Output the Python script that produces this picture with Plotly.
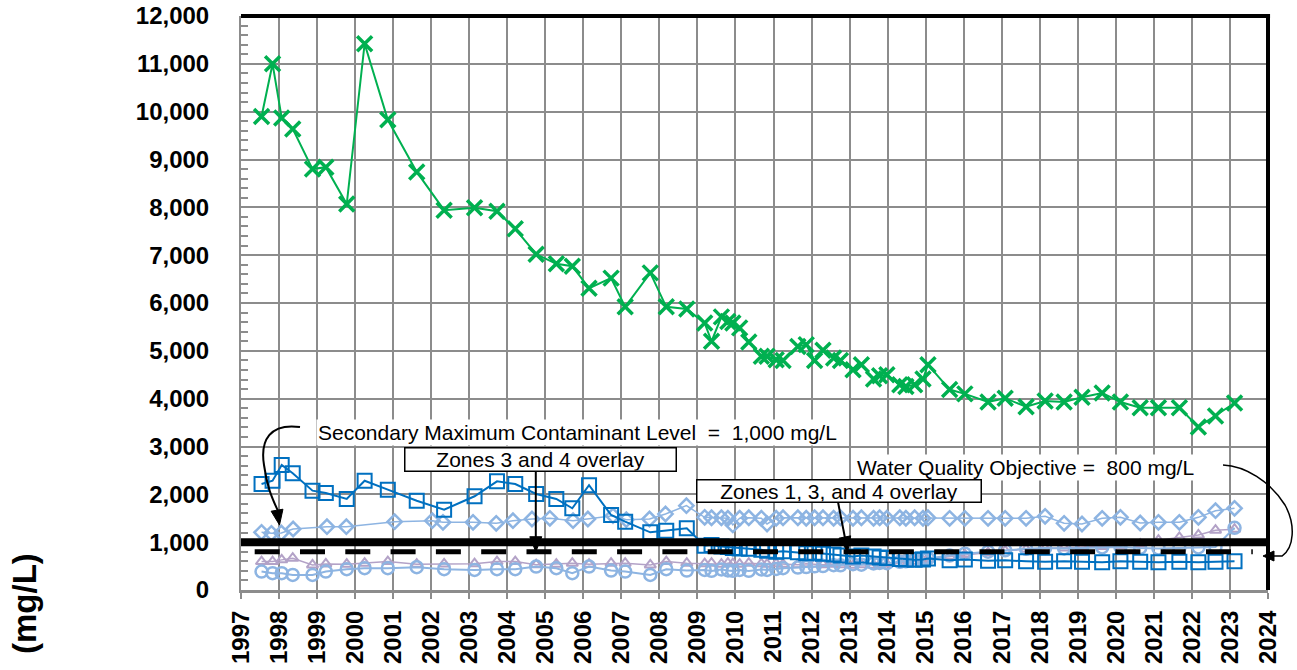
import plotly.graph_objects as go

# ---------------------------------------------------------------------------
# Data (decimal years, TDS in mg/L)
# ---------------------------------------------------------------------------
# Sampling dates shared by most of the monitoring wells
sample_t = [1997.54, 1997.83, 1998.07, 1998.36, 1998.88, 1999.23, 1999.78, 2000.25,
            2000.86, 2001.62, 2002.34, 2003.14, 2003.73, 2004.21, 2004.76, 2005.29,
            2005.71, 2006.15, 2006.73, 2007.10, 2007.76, 2008.18, 2008.72, 2009.19,
            2009.37, 2009.63, 2009.80, 2009.93, 2010.11, 2010.35, 2010.68, 2010.83,
            2011.07, 2011.25, 2011.64, 2011.86, 2012.08, 2012.30, 2012.58, 2012.76,
            2013.09, 2013.31, 2013.63, 2013.79, 2013.98, 2014.32, 2014.48, 2014.71,
            2014.93, 2015.06, 2015.63, 2016.03, 2016.64, 2017.09, 2017.64, 2018.14,
            2018.64, 2019.11, 2019.64, 2020.12, 2020.64, 2021.12, 2021.67, 2022.17,
            2022.62, 2023.12]

well_green = [9900, 11000, 9870, 9640, 8800, 8840, 8070, 11420, 9830, 8740, 7940, 7990,
              7920, 7550, 7020, 6820, 6770, 6310, 6520, 5920, 6630, 5920, 5875, 5580,
              5200, 5710, 5615, 5580, 5480, 5185, 4885, 4885, 4815, 4800, 5090, 5130,
              4800, 5010, 4850, 4800, 4605, 4710, 4410, 4480, 4500, 4290, 4255, 4290,
              4410, 4710, 4190, 4100, 3930, 4010, 3830, 3950, 3930, 4030, 4120, 3930,
              3810, 3810, 3810, 3410, 3640, 3910]

well_square = [2216, 2285, 2613, 2440, 2077, 2028, 1903, 2285, 2097, 1867, 1679, 1959,
               2272, 2216, 2007, 1903, 1708, 2190, 1568, 1428, 1206, 1240, 1290, 926,
               940, 910, 900, 880, 870, 860, 840, 820, 800, 810, 790, 770,
               780, 760, 740, 720, 700, 720, 700, 680, 670, 650, 640, 630,
               640, 660, 620, 640, 610, 620, 600, 590, 600, 590, 580, 600,
               590, 580, 590, 580, 590, 600]

well_circle = [385, 351, 351, 316, 316, 385, 435, 456, 456, 477, 435, 420,
               435, 435, 490, 456, 351, 490, 406, 385, 316, 435, 406, 420,
               400, 430, 410, 400, 420, 400, 430, 420, 440, 455, 470, 480,
               495, 500, 520, 515, 540, 530, 555, 565, 560, 590, 600, 625,
               640, 660, 720, 760, 800, 830, 860, 880, 870, 880, 890, 900,
               880, 870, 880, 890, 900, 1300]

well_triangle = [594, 594, 630, 665, 525, 546, 540, 560, 594, 540, 545, 550,
                 594, 594, 530, 540, 560, 540, 560, 560, 525, 594, 560, 550,
                 560, 540, 560, 550, 540, 560, 550, 540, 550, 540, 530, 550,
                 540, 530, 540, 530, 520, 530, 520, 530, 540, 560, 580, 600,
                 620, 650, 700, 740, 780, 820, 850, 870, 880, 900, 910, 930,
                 960, 1040, 1100, 1150, 1250, 1270]

# The diamond well was sampled on its own schedule until 2009
diamond_t_early = [1997.54, 1997.80, 1998.06, 1998.37, 1999.26, 1999.77, 2001.04, 2002.03,
                   2002.31, 2003.10, 2003.71, 2004.15, 2004.65, 2005.12, 2005.73, 2006.12,
                   2006.78, 2007.13, 2007.74, 2008.16, 2008.71, 2009.19]
diamond_v_early = [1206, 1185, 1192, 1275, 1324, 1324, 1428, 1449, 1415, 1415, 1394, 1449,
                   1484, 1498, 1449, 1484, 1554, 1470, 1484, 1589, 1763, 1519]
diamond_v_late = [1510, 1510, 1500, 1360, 1500, 1510, 1500, 1380, 1500, 1510, 1510, 1500,
                  1510, 1510, 1500, 1510, 1500, 1510, 1500, 1510, 1500, 1510, 1500, 1510,
                  1500, 1510, 1498, 1498, 1498, 1498, 1498, 1540, 1394, 1380, 1498, 1519,
                  1400, 1415, 1415, 1519, 1658, 1708]

SMCL = 1000   # Secondary Maximum Contaminant Level, mg/L
WQO = 800     # Water Quality Objective, mg/L

year_ticks = list(range(1997, 2025))

# ---------------------------------------------------------------------------
# Layout geometry
# ---------------------------------------------------------------------------
W, H = 1297, 670
L, R, T, B = 241, 1268, 16, 590  # plot area in page pixels
X0, X1 = 1997, 2024
Y0, Y1 = 0, 12000
FONT = "Liberation Sans, Arial, sans-serif"


def pxp(x):
    return (x - L) / (R - L)


def pyp(y):
    return (B - y) / (B - T)


def data_px(year, val):
    return (L + (year - X0) * (R - L) / (X1 - X0), B - (val - Y0) * (B - T) / (Y1 - Y0))


def path(points, cmd_list):
    """Build an SVG path in paper coordinates from page-pixel points."""
    out = []
    i = 0
    for cmd in cmd_list:
        if cmd in ("M", "L"):
            x, y = points[i]; i += 1
            out.append(f"{cmd} {pxp(x):.5f},{pyp(y):.5f}")
        elif cmd == "C":
            seg = []
            for _ in range(3):
                x, y = points[i]; i += 1
                seg.append(f"{pxp(x):.5f},{pyp(y):.5f}")
            out.append("C " + " ".join(seg))
        elif cmd == "Z":
            out.append("Z")
    return " ".join(out)


def arrowhead(tip, tail, length=15, width=12):
    tx, ty = tip
    dx, dy = tx - tail[0], ty - tail[1]
    n = (dx * dx + dy * dy) ** 0.5
    ux, uy = dx / n, dy / n
    bx, by = tx - ux * length, ty - uy * length
    px_, py_ = -uy * width / 2, ux * width / 2
    pts = [(tx, ty), (bx + px_, by + py_), (bx - px_, by - py_)]
    return dict(type="path", xref="paper", yref="paper",
                path=path(pts, ["M", "L", "L", "Z"]),
                fillcolor="black", line=dict(color="black", width=1), layer="above")


fig = go.Figure()

fig.add_trace(go.Scatter(
    x=sample_t, y=well_triangle, mode="lines+markers", name="Triangle well",
    line=dict(color="#B3A2C7", width=1.5),
    marker=dict(symbol="triangle-up-open", size=10, color="#B3A2C7", line=dict(width=2))))

fig.add_trace(go.Scatter(
    x=sample_t, y=well_circle, mode="lines+markers", name="Circle well",
    line=dict(color="#8DB4E2", width=2),
    marker=dict(symbol="circle-open", size=12, color="#8DB4E2", line=dict(width=2.5))))

fig.add_trace(go.Scatter(
    x=diamond_t_early + sample_t[24:], y=diamond_v_early + diamond_v_late,
    mode="lines+markers", name="Diamond well",
    line=dict(color="#8DB4E2", width=1.5),
    marker=dict(symbol="diamond-open", size=11, color="#8DB4E2", line=dict(width=2.5))))

fig.add_trace(go.Scatter(
    x=sample_t, y=well_square, mode="lines+markers", name="Square well",
    line=dict(color="#0070C0", width=2),
    marker=dict(symbol="square-open", size=14, color="#0070C0", line=dict(width=2))))

fig.add_trace(go.Scatter(
    x=sample_t, y=well_green, mode="lines+markers", name="Green well",
    line=dict(color="#00B050", width=2),
    marker=dict(symbol="x-thin", size=15, color="#00B050", line=dict(width=3.5, color="#00B050"))))

shapes = []
# Regulatory lines
shapes.append(dict(type="line", xref="paper", yref="y", x0=0, x1=1, y0=SMCL, y1=SMCL,
                   line=dict(color="black", width=8), layer="above"))
shapes.append(dict(type="line", xref="x", yref="y", x0=1997.36, x1=2023.6, y0=WQO, y1=WQO,
                   line=dict(color="black", width=5, dash="25px,20.3px"), layer="above"))
# Heavy frame on top and right
shapes.append(dict(type="line", xref="paper", yref="paper", x0=0, x1=1.002, y0=1, y1=1,
                   line=dict(color="black", width=4), layer="above"))
shapes.append(dict(type="line", xref="paper", yref="paper", x0=1, x1=1, y0=0, y1=1,
                   line=dict(color="black", width=4), layer="above"))

# Curved leader to the SMCL line
smcl_curve = [(300, 427), (270, 423), (260, 440), (264, 465), (267, 488), (273, 500), (278, 511)]
shapes.append(dict(type="path", xref="paper", yref="paper",
                   path=path(smcl_curve, ["M", "C", "C"]),
                   line=dict(color="black", width=2), layer="above"))
shapes.append(arrowhead((279.5, 525), (277, 510)))

# Curved leader to the WQO line
wqo_curve = [(1223, 465), (1245, 466), (1270, 481), (1285, 505),
             (1296, 525), (1294, 548), (1282, 556), (1273, 556)]
shapes.append(dict(type="path", xref="paper", yref="paper",
                   path=path(wqo_curve, ["M", "C", "C", "L"]),
                   line=dict(color="black", width=1.5), layer="above"))
shapes.append(arrowhead((1263, 556), (1280, 556), length=11, width=10))

# Straight leaders from the overlay boxes to the WQO line
tip34 = data_px(2004.75, WQO)
tail34 = (tip34[0], 471)
shapes.append(dict(type="path", xref="paper", yref="paper",
                   path=path([tail34, (tip34[0], tip34[1] - 12)], ["M", "L"]),
                   line=dict(color="black", width=2), layer="above"))
shapes.append(arrowhead(tip34, tail34))

tip134 = data_px(2012.95, WQO)
tail134 = (838, 502)
ux = tip134[0] - tail134[0]; uy = tip134[1] - tail134[1]
nn = (ux * ux + uy * uy) ** 0.5
shapes.append(dict(type="path", xref="paper", yref="paper",
                   path=path([tail134, (tip134[0] - ux / nn * 12, tip134[1] - uy / nn * 12)], ["M", "L"]),
                   line=dict(color="black", width=2), layer="above"))
shapes.append(arrowhead(tip134, tail134))

annotations = [
    dict(text="Secondary Maximum Contaminant Level  =  1,000 mg/L", xref="paper", yref="paper",
         x=pxp(316), y=pyp(432), xanchor="left", yanchor="middle", showarrow=False,
         font=dict(family=FONT, size=21, color="black"), bgcolor="white", borderpad=1),
    dict(text="Water Quality Objective =  800 mg/L", xref="paper", yref="paper",
         x=pxp(855), y=pyp(467), xanchor="left", yanchor="middle", showarrow=False,
         font=dict(family=FONT, size=21, color="black"), bgcolor="white", borderpad=1),
    dict(text="Zones 3 and 4 overlay", xref="paper", yref="paper",
         x=pxp(540.5), y=pyp(459), xanchor="center", yanchor="middle", showarrow=False,
         width=270, height=22, align="center", valign="middle",
         font=dict(family=FONT, size=21, color="black"), bgcolor="white",
         bordercolor="black", borderwidth=1.5, borderpad=0),
    dict(text="Zones 1, 3, and 4 overlay", xref="paper", yref="paper",
         x=pxp(839), y=pyp(490.5), xanchor="center", yanchor="middle", showarrow=False,
         width=283, height=21, align="center", valign="middle",
         font=dict(family=FONT, size=21, color="black"), bgcolor="white",
         bordercolor="black", borderwidth=1.5, borderpad=0),
    dict(text="(mg/L)", xref="paper", yref="paper", x=pxp(24), y=pyp(604),
         xanchor="center", yanchor="middle", textangle=-90, showarrow=False,
         font=dict(family=FONT, size=33, color="black", weight="bold")),
]

fig.update_layout(
    width=W, height=H,
    margin=dict(l=L, r=W - R, t=T, b=H - B, pad=0, autoexpand=False),
    paper_bgcolor="white", plot_bgcolor="white",
    showlegend=False,
    shapes=shapes, annotations=annotations,
    xaxis=dict(range=[X0, X1], tickmode="array", tickvals=year_ticks,
               ticktext=[str(y) for y in year_ticks], tickangle=-90, automargin=False,
               tickfont=dict(family=FONT, size=24, color="black", weight="bold"),
               showgrid=True, gridcolor="#8C8C8C", gridwidth=2,
               ticks="outside", ticklen=6, tickcolor="#8C8C8C", tickwidth=1.5,
               showline=True, linecolor="#8C8C8C", linewidth=3, zeroline=False,
               ticklabelstandoff=2),
    yaxis=dict(range=[Y0, Y1], dtick=1000, tick0=0, tickformat=",", automargin=False,
               tickfont=dict(family=FONT, size=24, color="black", weight="bold"),
               showgrid=True, gridcolor="#8C8C8C", gridwidth=2,
               ticks="inside", ticklen=7, tickcolor="#8C8C8C", tickwidth=1.5,
               minor=dict(dtick=200, ticks="inside", ticklen=7, tickcolor="#8C8C8C",
                          tickwidth=1.5, showgrid=False),
               showline=True, linecolor="#8C8C8C", linewidth=2, zeroline=False,
               ticklabelstandoff=25),
)

fig.write_html("out.html")
